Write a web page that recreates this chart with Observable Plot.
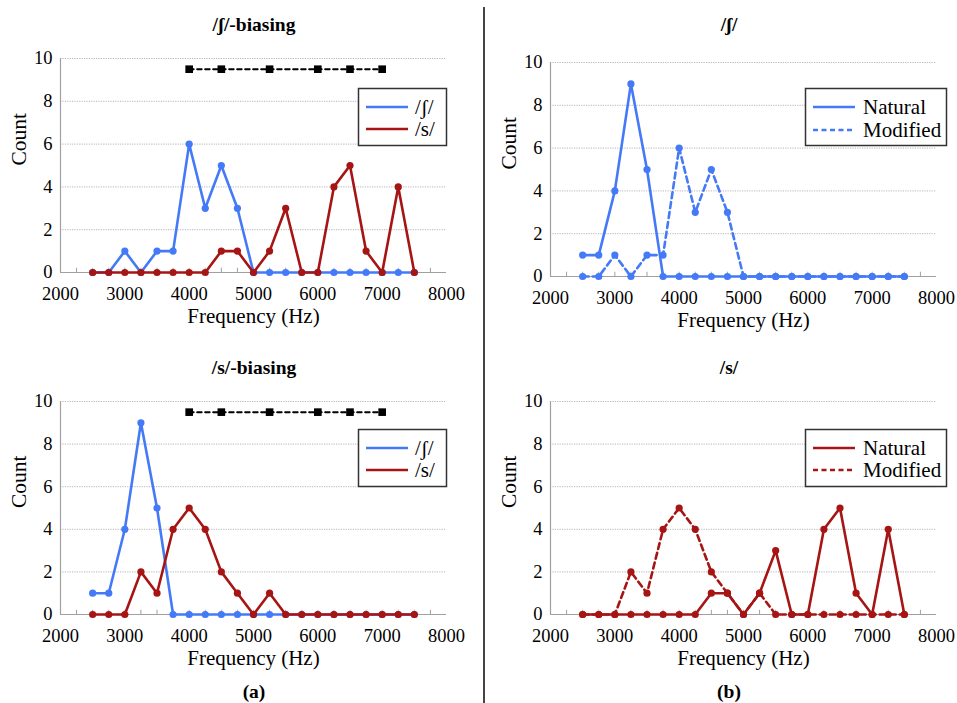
<!DOCTYPE html>
<html><head><meta charset="utf-8">
<script src="https://cdn.jsdelivr.net/npm/d3@7"></script>
<script src="https://cdn.jsdelivr.net/npm/@observablehq/plot@0.6"></script>
<style>
body{margin:0;background:#fff;font-family:"Liberation Serif","Tinos","Times New Roman",Times,"DejaVu Serif",serif;}
#root{position:relative;width:957px;height:703px;overflow:hidden;background:#fff;}
.title{position:absolute;font-weight:bold;font-size:19.5px;line-height:1;transform:translate(-50%,-50%);white-space:nowrap;color:#000;}
#divider{position:absolute;left:483px;top:7px;width:1.6px;height:700px;background:#444;}
svg.leg{position:absolute;left:0;top:0;overflow:visible;}
</style></head>
<body><div id="root"><div id="divider"></div></div>
<script>
const freqs = [2500,2750,3000,3250,3500,3750,4000,4250,4500,4750,5000,5250,5500,5750,6000,6250,6500,6750,7000,7250,7500];
const shNatural  = [1,1,4,9,5,0,0,0,0,0,0,0,0,0,0,0,0,0,0,0,0];
const shModified = [0,0,1,0,1,1,6,3,5,3,0,0,0,0,0,0,0,0,0,0,0];
const sNatural   = [0,0,0,0,0,0,0,0,1,1,0,1,3,0,0,4,5,1,0,4,0];
const sModified  = [0,0,0,2,1,4,5,4,2,1,0,1,0,0,0,0,0,0,0,0,0];
const sigFreqs = [4000,4500,5250,6000,6500,7000];
const sigLevel = 9.5;
const xTicks = [2000,3000,4000,5000,6000,7000,8000];
const yTicks = [0,2,4,6,8,10];
const minorTicks = d3.range(2250, 8000, 250);

const BLUE = "#4479F7", RED = "#A61414";
const FONT = '"Liberation Serif","Tinos","Times New Roman",Times,"DejaVu Serif",serif';
const root = document.getElementById("root");

function rows(arr){ return freqs.map((f,i)=>({f, v: arr[i]})); }

function panel({left, top, right, bottom, series, sig, title, titleX, titleY}) {
  const mt = 20, mb = 66, ml = 60, mr = 20;
  const plotW = right-left, plotH = bottom-top;
  const marks = [
    Plot.ruleY(yTicks.filter(d=>d>0), {stroke:"#b5b5b5", strokeWidth:1, strokeDasharray:"1.2,1.2"}),
    Plot.ruleX([2000], {stroke:"#a0a0a0", strokeWidth:1.2}),
    Plot.ruleY([0], {stroke:"#a0a0a0", strokeWidth:1.2}),
    Plot.ruleX(minorTicks, {y1:0, y2:0.2, stroke:"#a0a0a0", strokeWidth:1}),
    Plot.axisY({ticks:yTicks, tickSize:0, tickPadding:8, label:null, fontSize:18.5, fontFamily:FONT}),
    Plot.axisX({ticks:xTicks, tickSize:0, tickPadding:14, label:null, fontSize:18.5, fontFamily:FONT, tickFormat:d=>String(d)}),
    Plot.text(["Frequency (Hz)"], {frameAnchor:"bottom", dy:50, fontSize:21, fontFamily:FONT}),
    Plot.text(["Count"], {frameAnchor:"left", dx:-41, rotate:-90, fontSize:21.5, fontFamily:FONT})
  ];
  for (const s of series) {
    const data = rows(s.values);
    marks.push(Plot.line(data, {x:"f", y:"v", stroke:s.color, strokeWidth:2.6, strokeDasharray:s.dash || null, strokeLinejoin:"miter"}));
    marks.push(Plot.dot(data, {x:"f", y:"v", r:3.6, fill:s.color, stroke:"none"}));
  }
  if (sig) {
    const sd = sigFreqs.map(f=>({f, v:sigLevel}));
    marks.push(Plot.line(sd, {x:"f", y:"v", stroke:"#000", strokeWidth:2, strokeDasharray:"4.5,3.5"}));
    marks.push(Plot.dot(sd, {x:"f", y:"v", symbol:"square", r:4.3, fill:"#000", stroke:"none"}));
  }
  const svg = Plot.plot({
    width: ml+plotW+mr, height: mt+plotH+mb,
    marginLeft: ml, marginRight: mr, marginTop: mt, marginBottom: mb,
    style: {fontFamily: FONT, fontSize:"18px", color:"#000", background:"transparent", overflow:"visible"},
    x: {domain:[2000,8000]},
    y: {domain:[0,10]},
    marks
  });
  svg.style.position = "absolute";
  svg.style.left = (left-ml)+"px";
  svg.style.top = (top-mt)+"px";
  root.appendChild(svg);
  const t = document.createElement("div");
  t.className = "title"; t.textContent = title;
  t.style.left = titleX+"px"; t.style.top = titleY+"px";
  root.appendChild(t);
}

function legend({x0, x1, y0, y1, lx0, lx1, tx, items}) {
  const ns = "http://www.w3.org/2000/svg";
  const svg = document.createElementNS(ns, "svg");
  svg.setAttribute("class","leg");
  svg.setAttribute("width", 957); svg.setAttribute("height", 703);
  svg.style.pointerEvents = "none";
  const r = document.createElementNS(ns,"rect");
  r.setAttribute("x", x0); r.setAttribute("y", y0);
  r.setAttribute("width", x1-x0); r.setAttribute("height", y1-y0);
  r.setAttribute("fill","#fff"); r.setAttribute("stroke","#333"); r.setAttribute("stroke-width","1.5");
  svg.appendChild(r);
  for (const it of items) {
    const l = document.createElementNS(ns,"line");
    l.setAttribute("x1", lx0); l.setAttribute("x2", lx1);
    l.setAttribute("y1", it.y); l.setAttribute("y2", it.y);
    l.setAttribute("stroke", it.color); l.setAttribute("stroke-width","2.6");
    if (it.dash) l.setAttribute("stroke-dasharray", it.dash);
    svg.appendChild(l);
    const t = document.createElementNS(ns,"text");
    t.setAttribute("x", tx); t.setAttribute("y", it.y);
    t.setAttribute("dy","0.35em");
    t.setAttribute("font-family", FONT); t.setAttribute("font-size","21");
    t.textContent = it.label;
    svg.appendChild(t);
  }
  root.appendChild(svg);
}

const DASH = "6,4";

panel({left:60, top:58, right:446, bottom:272, title:"/ʃ/-biasing", titleX:254, titleY:25, sig:true,
  series:[{values:shModified, color:BLUE},{values:sNatural, color:RED}]});
panel({left:550, top:62, right:936, bottom:276, title:"/ʃ/", titleX:729, titleY:25, sig:false,
  series:[{values:shNatural, color:BLUE},{values:shModified, color:BLUE, dash:DASH}]});
panel({left:60, top:401, right:446, bottom:614, title:"/s/-biasing", titleX:254, titleY:368, sig:true,
  series:[{values:shNatural, color:BLUE},{values:sModified, color:RED}]});
panel({left:550, top:401, right:936, bottom:614, title:"/s/", titleX:729, titleY:368, sig:false,
  series:[{values:sNatural, color:RED},{values:sModified, color:RED, dash:DASH}]});

legend({x0:358.5, x1:446.5, y0:88.5, y1:145.5, lx0:366, lx1:408, tx:415,
  items:[{y:107, color:BLUE, label:"/ʃ/"},{y:129, color:RED, label:"/s/"}]});
legend({x0:805.5, x1:946.5, y0:88.5, y1:145.5, lx0:813, lx1:855, tx:863,
  items:[{y:107, color:BLUE, label:"Natural"},{y:130, color:BLUE, dash:"5,3.5", label:"Modified"}]});
legend({x0:358.5, x1:446.5, y0:429.5, y1:486.5, lx0:366, lx1:408, tx:415,
  items:[{y:448, color:BLUE, label:"/ʃ/"},{y:470, color:RED, label:"/s/"}]});
legend({x0:805.5, x1:946.5, y0:429.5, y1:486.5, lx0:813, lx1:855, tx:863,
  items:[{y:448, color:RED, label:"Natural"},{y:470, color:RED, dash:"5,3.5", label:"Modified"}]});

for (const [lab, x] of [["(a)",254],["(b)",729]]) {
  const t = document.createElement("div");
  t.className = "title"; t.textContent = lab;
  t.style.left = x+"px"; t.style.top = "692px";
  root.appendChild(t);
}
</script>
</body></html>
